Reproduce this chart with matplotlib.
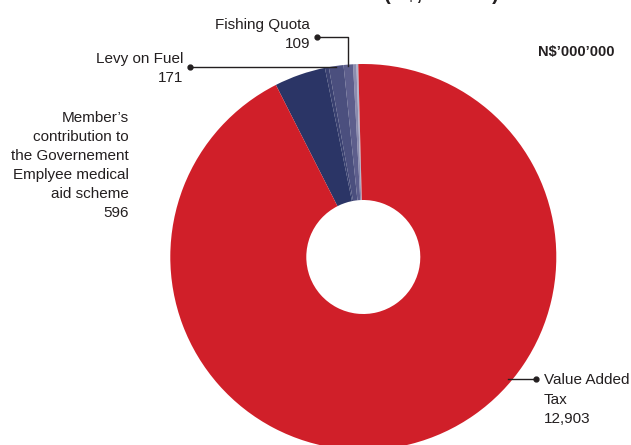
import numpy as np
import matplotlib
matplotlib.use('Agg')
import matplotlib.pyplot as plt

plt.rcParams['font.family'] = ['Liberation Sans', 'DejaVu Sans']

# revenue items, N$ million (small unnamed items sit between the labelled ones)
items = ['Other 1', 'Other 2', 'Fishing Quota', 'Levy on Fuel', 'Other 3',
         "Member\u2019s contribution to the Governement Emplyee medical aid scheme",
         'Value Added Tax']
values = [22, 38, 109, 171, 45, 596, 12903]
colors = ['#b4b4cb', '#8c8cae', '#5d5e8c', '#4b4f7e', '#3a4171', '#2b3566', '#d01f29']

W, H = 631, 445
cx, cy, R = 363.3, 257, 193
hole = 57

fig = plt.figure(figsize=(W / 100, H / 100), dpi=100)
ax = fig.add_axes([0, 0, 1, 1])

wedges, _ = ax.pie(values, colors=colors, startangle=91.5, counterclock=True,
                   radius=R, center=(cx, H - cy),
                   wedgeprops=dict(width=R - hole, linewidth=0))
ax.set_xlim(0, W)
ax.set_ylim(0, H)
ax.set_aspect('equal')
ax.axis('off')

txt_col = '#231f20'
fs = 11


def lines(x, y0, rows, ha='right', step=19.5):
    for i, r in enumerate(rows):
        ax.text(x, H - (y0 + i * step), r, ha=ha, va='center', fontsize=fs, color=txt_col)


def edge_point(w):
    a = np.deg2rad((w.theta1 + w.theta2) / 2)
    return cx + R * np.cos(a), cy - R * np.sin(a)


def leader(xs, ys):
    ax.plot(xs, [H - y for y in ys], color=txt_col, lw=1)
    ax.plot(xs[0], H - ys[0], 'o', color=txt_col, ms=3.5)


# Fishing Quota
fx, fy = edge_point(wedges[2])
leader([317, fx, fx], [37, 37, fy + 1])
lines(310, 25, ['Fishing Quota', f'{values[2]:,}'])

# Levy on Fuel
lx, ly = edge_point(wedges[3])
leader([190, lx], [67, 67])
lines(183, 59, ['Levy on Fuel', f'{values[3]:,}'])

# Member's contribution
lines(129, 118, ['Member\u2019s', 'contribution to', 'the Governement',
                 'Emplyee medical', 'aid scheme', f'{values[5]:,}'], step=19)

# Value Added Tax, leader runs flat into the ring
vy = 379
vx = cx + np.sqrt(R ** 2 - (vy - cy) ** 2) - 5
leader([536, vx], [vy, vy])
lines(544, 380, ['Value Added', 'Tax', f'{values[6]:,}'], ha='left')

ax.text(576, H - 52, 'N$\u2019000\u2019000', ha='center', va='center',
        fontsize=10.5, fontweight='bold', color=txt_col)

# chart title (sits mostly above the top edge)
ax.text(499, H + 0.5, '(N$, million)', ha='right', va='baseline',
        fontsize=14.5, fontweight='bold', color=txt_col)

fig.savefig('out.png', dpi=100)
